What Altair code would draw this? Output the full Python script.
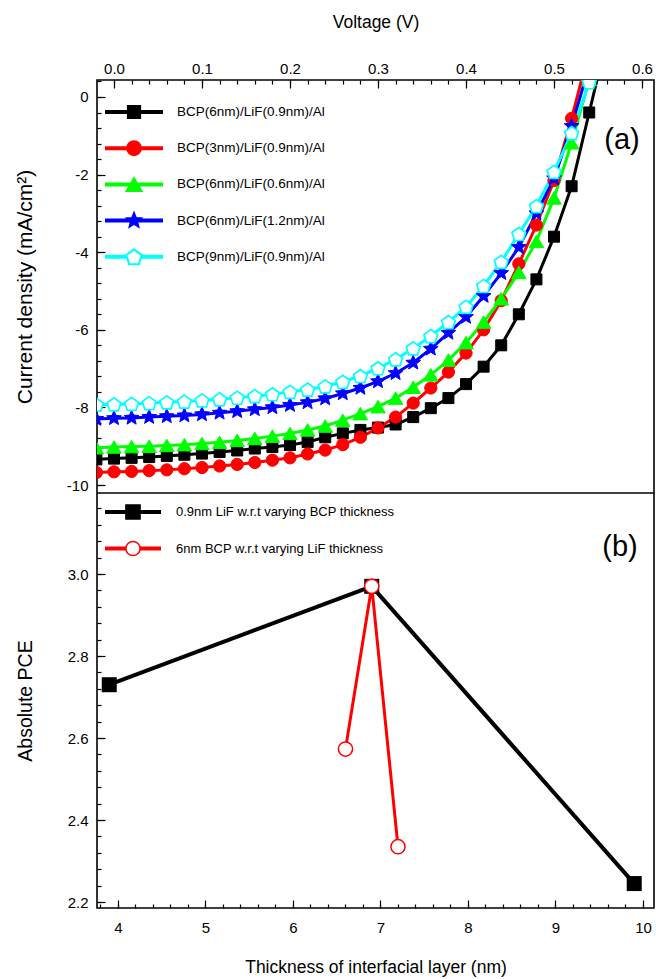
import altair as alt
import pandas as pd

# ---------------- data ----------------
voltage = [-0.02, 0.00, 0.02, 0.04, 0.06, 0.08, 0.10, 0.12, 0.14, 0.16,
           0.18, 0.20, 0.22, 0.24, 0.26, 0.28, 0.30, 0.32, 0.34, 0.36,
           0.38, 0.40, 0.42, 0.44, 0.46, 0.48, 0.50, 0.52, 0.54, 0.56]

series_names = ["BCP(6nm)/LiF(0.9nm)/Al", "BCP(3nm)/LiF(0.9nm)/Al",
                "BCP(6nm)/LiF(0.6nm)/Al", "BCP(6nm)/LiF(1.2nm)/Al",
                "BCP(9nm)/LiF(0.9nm)/Al"]

j_bcp6_lif09 = [-9.34, -9.32, -9.30, -9.28, -9.25, -9.22, -9.19, -9.15, -9.11, -9.06,
                -9.02, -8.97, -8.89, -8.77, -8.67, -8.58, -8.52, -8.44, -8.25, -8.02,
                -7.76, -7.40, -6.95, -6.40, -5.60, -4.70, -3.60, -2.30, -0.40, 1.50]
j_bcp3_lif09 = [-9.68, -9.66, -9.65, -9.63, -9.61, -9.58, -9.55, -9.51, -9.47, -9.42,
                -9.36, -9.30, -9.20, -9.10, -8.96, -8.77, -8.53, -8.25, -7.89, -7.50,
                -7.09, -6.60, -6.00, -5.25, -4.30, -3.30, -2.15, -0.55, 1.20, 3.00]
j_bcp6_lif06 = [-9.04, -9.02, -9.01, -9.00, -8.98, -8.96, -8.93, -8.90, -8.85, -8.80,
                -8.74, -8.67, -8.58, -8.48, -8.33, -8.16, -7.98, -7.76, -7.48, -7.16,
                -6.78, -6.33, -5.80, -5.20, -4.52, -3.72, -2.60, -1.18, 0.45, 2.00]
j_bcp6_lif12 = [-8.30, -8.28, -8.27, -8.25, -8.23, -8.21, -8.18, -8.14, -8.10, -8.05,
                -8.00, -7.94, -7.87, -7.77, -7.64, -7.50, -7.33, -7.12, -6.85, -6.49,
                -6.08, -5.67, -5.13, -4.54, -3.87, -3.00, -2.10, -0.75, 0.80, 2.40]
j_bcp9_lif09 = [-7.93, -7.92, -7.91, -7.89, -7.87, -7.85, -7.82, -7.79, -7.75, -7.71,
                -7.66, -7.60, -7.54, -7.46, -7.34, -7.19, -6.99, -6.76, -6.48, -6.16,
                -5.80, -5.41, -4.87, -4.25, -3.53, -2.81, -1.93, -0.93, 0.38, 1.90]

pce_names = ["0.9nm LiF w.r.t varying BCP thickness",
             "6nm BCP w.r.t varying LiF thickness"]
bcp_thickness = [3.9, 6.9, 9.9]
pce_bcp = [2.73, 2.97, 2.245]
lif_thickness = [6.6, 6.9, 7.2]
pce_lif = [2.573, 2.97, 2.335]

# tick values
v_major = [0.0, 0.1, 0.2, 0.3, 0.4, 0.5, 0.6]
v_minor = [round(-0.02 + 0.02 * k, 2) for k in range(32)]
j_major = [0, -2, -4, -6, -8, -10]
j_minor = [round(0.4 - 0.4 * k, 1) for k in range(27)]
t_major = [4, 5, 6, 7, 8, 9, 10]
t_minor = [round(3.8 + 0.2 * k, 1) for k in range(32)]
pce_major = [2.2, 2.4, 2.6, 2.8, 3.0]
pce_minor = [round(2.2 + 0.04 * k, 2) for k in range(25)]

# ---------------- styles ----------------
FONT = "Liberation Sans"
NARROW = "Liberation Sans Narrow, Liberation Sans"
W, HA, H = 557, 413, 828
colors = ["#000000", "#ff0000", "#00ff00", "#0000ff", "#00ffff"]
fills = ["#000000", "#ff0000", "#00ff00", "#0000ff", "#ffffff"]
STAR = ("M0,-1 L0.26,-0.36 L0.95,-0.31 L0.42,0.14 L0.59,0.81 L0,0.44 "
        "L-0.59,0.81 L-0.42,0.14 L-0.95,-0.31 L-0.26,-0.36 Z")
PENT = "M0,-0.9 L0.95,-0.21 L0.59,0.9 L-0.59,0.9 L-0.95,-0.21 Z"
shapes = ["square", "circle", "triangle-up", STAR, PENT]
sizes_data = [121, 150, 210, 240, 210]
sizes_leg = [165, 210, 250, 270, 270]
stroke_w = [1, 1, 1, 1, 1.7]

xa = alt.Scale(domain=[-0.0193, 0.6136], range=[0, W], nice=False, zero=False)
ya = alt.Scale(domain=[-10.206, 0.438], range=[HA, 0], nice=False, zero=False)
xb = alt.Scale(domain=[3.76, 10.126], range=[0, W], nice=False, zero=False)
yb = alt.Scale(domain=[2.1854, 3.1976], range=[H, HA], nice=False, zero=False)


def major(orient, values, fmt, title, tsize=17.5, **kw):
    return alt.Axis(orient=orient, values=values, format=fmt, title=title,
                    tickSize=8, offset=-8, domain=False, grid=False,
                    labelFontSize=15, titleFontSize=tsize,
                    titleBaseline="middle", **kw)


def minor(orient, values):
    return alt.Axis(orient=orient, values=values, tickSize=4, offset=-4,
                    domain=False, grid=False, labels=False, title=None)


# ---------------- panel (a) ----------------
series_values = [j_bcp6_lif09, j_bcp3_lif09, j_bcp6_lif06, j_bcp6_lif12, j_bcp9_lif09]
rows = []
for name, js in zip(series_names, series_values):
    for v, j in zip(voltage, js):
        rows.append({"series": name, "V": v, "J": j})
df_a = pd.DataFrame(rows)

sdom = series_names
line_a = alt.Chart(df_a).mark_line(strokeWidth=3, clip=True).encode(
    x=alt.X("V:Q", scale=xa, axis=major("top", v_major, ".1f", "Voltage (V)",
                                         labelPadding=4, titleY=-66)),
    y=alt.Y("J:Q", scale=ya, axis=major("left", j_major, "d",
                                         "Current density (mA/cm²)", tsize=21,
                                         labelPadding=9, titleX=-80,
                                         labelExpr="'' + datum.value")),
    color=alt.Color("series:N", scale=alt.Scale(domain=sdom, range=colors), legend=None),
    detail="series:N",
)
layers = [line_a]

for i, name in enumerate(series_names):
    d = pd.DataFrame({"V": voltage, "J": series_values[i]})
    if i == 0:
        ax_x, ax_y = minor("top", v_minor), minor("left", j_minor)
    else:
        ax_x, ax_y = None, None
    layers.append(alt.Chart(d).mark_point(
        shape=shapes[i], filled=True, fill=fills[i], stroke=colors[i],
        strokeWidth=stroke_w[i], size=sizes_data[i], opacity=1, clip=True).encode(
        x=alt.X("V:Q", scale=xa, axis=ax_x),
        y=alt.Y("J:Q", scale=ya, axis=ax_y)))

for i, name in enumerate(series_names):
    yy = 32 + 36.2 * i
    d = pd.DataFrame({"name": [name]})
    layers.append(alt.Chart(d).mark_rule(color=colors[i], strokeWidth=4).encode(
        x=alt.value(8), x2=alt.value(66), y=alt.value(yy)))
    layers.append(alt.Chart(d).mark_point(
        shape=shapes[i], filled=True, fill=fills[i], stroke=colors[i],
        strokeWidth=stroke_w[i] + 0.4, size=sizes_leg[i], opacity=1).encode(
        x=alt.value(37), y=alt.value(yy)))
    layers.append(alt.Chart(d).mark_text(
        align="left", baseline="middle", font=NARROW, fontSize=13.5, color="black").encode(
        x=alt.value(80), y=alt.value(yy), text="name:N"))

tag_a = alt.Chart(pd.DataFrame({"t": ["(a)"]})).mark_text(
    font=FONT, fontSize=29, color="black", align="center", baseline="middle").encode(
    x=alt.value(525), y=alt.value(60), text="t:N")
layers.append(tag_a)

# ---------------- panel (b) ----------------
df_b1 = pd.DataFrame({"t": bcp_thickness, "pce": pce_bcp})
df_b2 = pd.DataFrame({"t": lif_thickness, "pce": pce_lif})

line_b1 = alt.Chart(df_b1).mark_line(color="black", strokeWidth=4).encode(
    x=alt.X("t:Q", scale=xb, axis=major("bottom", t_major, "d",
                                         "Thickness of interfacial layer (nm)",
                                         labelPadding=12, titleY=67)),
    y=alt.Y("pce:Q", scale=yb, axis=major("left", pce_major, ".1f", "Absolute PCE",
                                           tsize=19.5, labelPadding=9, titleX=-80)),
)
pts_b1 = alt.Chart(df_b1).mark_point(shape="square", filled=True, color="black",
                                     size=225, opacity=1).encode(
    x=alt.X("t:Q", scale=xb, axis=minor("bottom", t_minor)),
    y=alt.Y("pce:Q", scale=yb, axis=minor("left", pce_minor)),
)
line_b2 = alt.Chart(df_b2).mark_line(color="#ff0000", strokeWidth=3).encode(
    x=alt.X("t:Q", scale=xb, axis=None),
    y=alt.Y("pce:Q", scale=yb, axis=None),
)
pts_b2 = alt.Chart(df_b2).mark_point(shape="circle", filled=True, fill="white",
                                     stroke="#ff0000", strokeWidth=1.5,
                                     size=200, opacity=1).encode(
    x=alt.X("t:Q", scale=xb, axis=None),
    y=alt.Y("pce:Q", scale=yb, axis=None),
)
layers += [line_b1, pts_b1, line_b2, pts_b2]

leg_b_colors = ["#000000", "#ff0000"]
leg_b_shapes = ["square", "circle"]
leg_b_fill = ["#000000", "#ffffff"]
leg_b_width = [4, 4]
for i, name in enumerate(pce_names):
    yy = HA + 19 + 36.5 * i
    d = pd.DataFrame({"name": [name]})
    layers.append(alt.Chart(d).mark_rule(color=leg_b_colors[i], strokeWidth=leg_b_width[i]).encode(
        x=alt.value(8), x2=alt.value(64), y=alt.value(yy)))
    layers.append(alt.Chart(d).mark_point(
        shape=leg_b_shapes[i], filled=True, fill=leg_b_fill[i], stroke=leg_b_colors[i],
        strokeWidth=1.5, size=200, opacity=1).encode(x=alt.value(36), y=alt.value(yy)))
    layers.append(alt.Chart(d).mark_text(
        align="left", baseline="middle", font=NARROW, fontSize=13, color="black").encode(
        x=alt.value(79), y=alt.value(yy), text="name:N"))

tag_b = alt.Chart(pd.DataFrame({"t": ["(b)"]})).mark_text(
    font=FONT, fontSize=29, color="black", align="center", baseline="middle").encode(
    x=alt.value(523), y=alt.value(HA + 54), text="t:N")
layers.append(tag_b)

divider = alt.Chart(pd.DataFrame({"k": [0]})).mark_rule(color="black", strokeWidth=1.6).encode(
    x=alt.value(0), x2=alt.value(W), y=alt.value(HA))
layers.append(divider)

chart = alt.layer(*layers).resolve_scale(
    x="independent", y="independent"
).properties(
    width=W, height=H,
    autosize=alt.AutoSizeParams(type="none"),
    padding={"left": 97, "top": 80, "right": 2, "bottom": 71},
    background="white",
).configure_view(
    stroke="black", strokeWidth=1.6
).configure_axis(
    labelFont=FONT, titleFont=FONT, labelColor="black", titleColor="black",
    tickColor="black", tickWidth=1.2, titleFontWeight="normal",
)

chart.save("out.html", embed_options={"renderer": "svg", "actions": False})
